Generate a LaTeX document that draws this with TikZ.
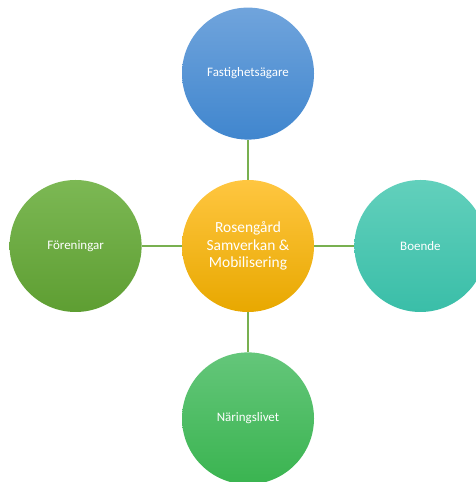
\documentclass[tikz,border=0pt]{standalone}
\usepackage{fontspec}
\setmainfont{Carlito}
\usetikzlibrary{positioning}
\definecolor{fastblue}{RGB}{112,164,220}
\definecolor{fastbluedk}{RGB}{64,134,206}
\definecolor{centregold}{RGB}{255,198,64}
\definecolor{centregolddk}{RGB}{232,168,0}
\definecolor{forgreen}{RGB}{124,184,84}
\definecolor{forgreendk}{RGB}{94,158,50}
\definecolor{boteal}{RGB}{98,208,188}
\definecolor{botealdk}{RGB}{58,190,168}
\definecolor{narigreen}{RGB}{100,198,122}
\definecolor{narigreendk}{RGB}{58,180,80}
\definecolor{linkgreen}{RGB}{120,176,80}

\begin{document}
\begin{tikzpicture}[
    x=1bp, y=1bp,
    node distance=40bp,
    every node/.style={align=center, text=white},
    hub/.style={circle, minimum size=132bp, inner sep=0pt},
    link/.style={draw=linkgreen, line width=1.3bp}
]
\useasboundingbox (0,0) rectangle (476,482);
\clip (0,0) rectangle (476,482);
\node[hub, top color=centregold, bottom color=centregolddk,
      font=\fontsize{15.5}{17.5}\selectfont] (centre) at (248,236)
    {Rosengård\\Samverkan \&\\Mobilisering};
\node[hub, above=of centre, top color=fastblue, bottom color=fastbluedk,
      font=\fontsize{13}{15}\selectfont] (fast) {Fastighetsägare};
\node[hub, left=of centre, top color=forgreen, bottom color=forgreendk,
      font=\fontsize{13}{15}\selectfont] (foren) {Föreningar};
\node[hub, right=of centre, top color=boteal, bottom color=botealdk,
      font=\fontsize{13}{15}\selectfont] (boende) {Boende};
\node[hub, below=of centre, top color=narigreen, bottom color=narigreendk,
      font=\fontsize{13}{15}\selectfont] (naring) {Näringslivet};
% connectors
\draw[link] (centre) -- (fast);
\draw[link] (centre) -- (foren);
\draw[link] (centre) -- (boende);
\draw[link] (centre) -- (naring);
\end{tikzpicture}
\end{document}
